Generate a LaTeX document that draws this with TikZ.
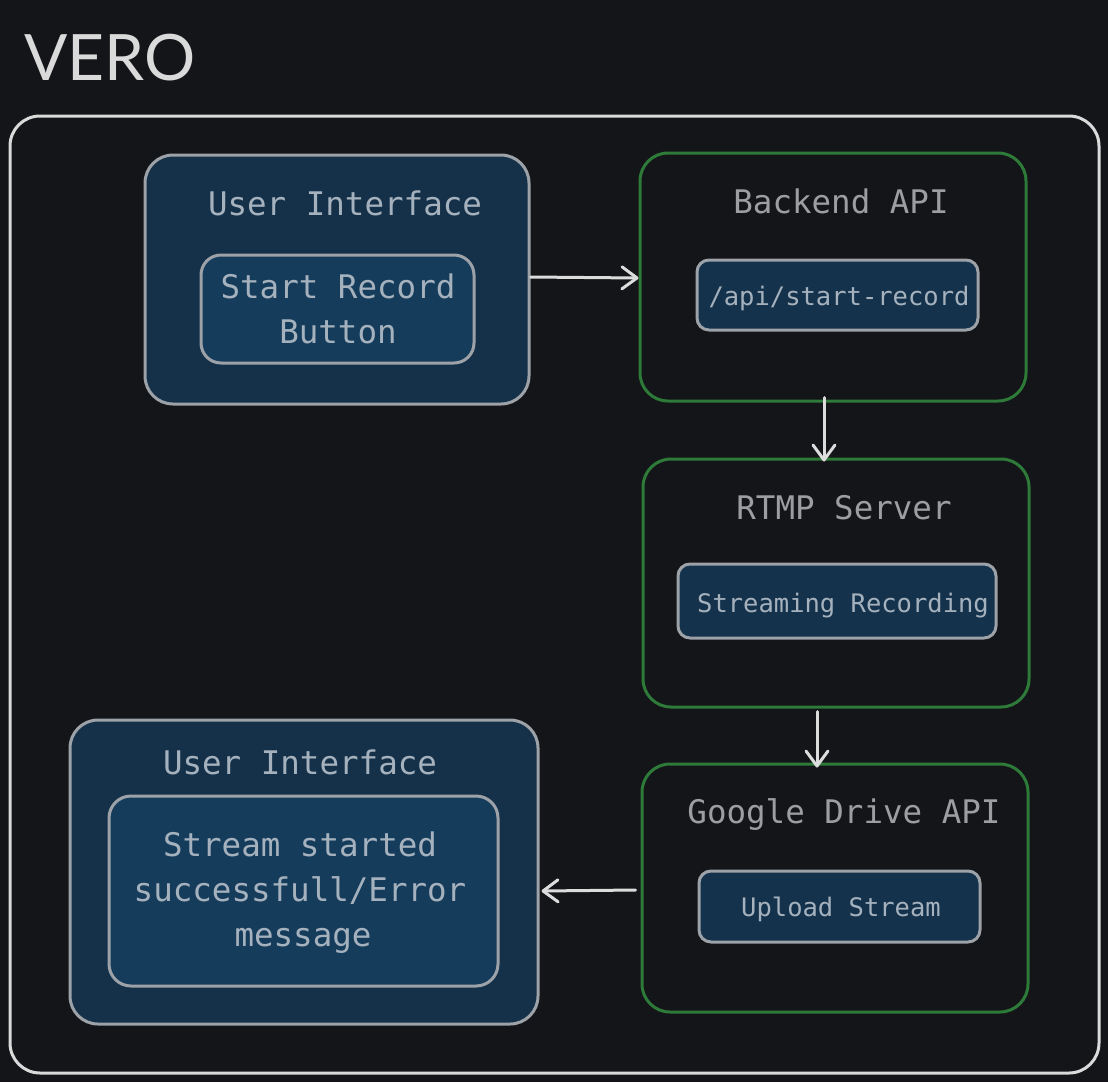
\documentclass[tikz,border=0pt]{standalone}
\usepackage{fontspec}
\setmainfont{Lato}
\newfontfamily\boxfont{DejaVu Sans Mono}
\usetikzlibrary{arrows.meta}
\definecolor{bgc}{RGB}{19,21,25}
\definecolor{framec}{RGB}{218,218,218}
\definecolor{uifill}{RGB}{21,49,73}
\definecolor{uiinner}{RGB}{22,60,92}
\definecolor{smallfill}{RGB}{20,50,75}
\definecolor{grayline}{RGB}{156,162,168}
\definecolor{greenline}{RGB}{46,122,56}
\definecolor{txtblue}{RGB}{165,178,190}
\definecolor{txtgray}{RGB}{158,158,160}
\definecolor{arrc}{RGB}{220,220,220}
\tikzset{
  box/.style={rectangle, rounded corners=28pt, line width=3pt, inner sep=0pt},
  uibox/.style={box, draw=grayline, fill=uifill},
  uiinnerbox/.style={box, rounded corners=22pt, draw=grayline, fill=uiinner},
  svcbox/.style={box, draw=greenline, fill=bgc},
  chip/.style={box, rounded corners=12pt, draw=grayline, fill=smallfill},
  bigtxt/.style={font=\boxfont\fontsize{32.5}{39}\selectfont, anchor=base, inner sep=0pt},
  smalltxt/.style={font=\boxfont\fontsize{25.5}{30}\selectfont, anchor=base, inner sep=0pt},
  arr/.style={draw=arrc, line width=3pt, line cap=round, -{Straight Barb[length=15pt,width=22pt,line width=3pt,round]}}
}
\begin{document}
\begin{tikzpicture}[x=1pt,y=-1pt]
\fill[bgc] (0,0) rectangle (1108,1082);
\useasboundingbox (0,0) rectangle (1108,1082);
% title
\node[anchor=base west, inner sep=0pt, text=framec, font=\fontsize{64}{76}\selectfont] (title) at (24,80) {VERO};
% frame
\node[box, rounded corners=30pt, draw=framec, minimum width=1089pt, minimum height=957pt] (frame) at (554.5,594.5) {};
% UI 1
\node[uibox, minimum width=384pt, minimum height=249pt] (ui1) at (337,279.5) {};
\node[bigtxt, text=txtblue] (ui1t) at (345,215) {User Interface};
\node[uiinnerbox, rounded corners=20pt, minimum width=273pt, minimum height=108pt] (btn) at (337.5,309) {};
\node[bigtxt, text=txtblue] (btnt1) at (338,298) {Start Record};
\node[bigtxt, text=txtblue] (btnt2) at (338,343) {Button};
% Backend API
\node[svcbox, minimum width=386pt, minimum height=248pt] (api) at (833,277) {};
\node[bigtxt, text=txtgray] (apit) at (841,213) {Backend API};
\node[chip, minimum width=281pt, minimum height=70pt] (ep) at (837.5,295) {};
\node[smalltxt, text=txtblue] (ept) at (839,305) {/api/start-record};
% RTMP
\node[svcbox, minimum width=386pt, minimum height=248pt] (rtmp) at (836,583) {};
\node[bigtxt, text=txtgray] (rtmpt) at (844,519) {RTMP Server};
\node[chip, minimum width=318pt, minimum height=74pt] (rec) at (837,601) {};
\node[smalltxt, text=txtblue] (rect) at (843,612) {Streaming Recording};
% Google Drive
\node[svcbox, minimum width=386pt, minimum height=248pt] (gd) at (835,888) {};
\node[bigtxt, text=txtgray] (gdt) at (844,823) {Google Drive API};
\node[chip, minimum width=281pt, minimum height=71pt] (up) at (839.5,906.5) {};
\node[smalltxt, text=txtblue] (upt) at (841,916) {Upload Stream};
% UI 2
\node[uibox, minimum width=468pt, minimum height=304pt] (ui2) at (304,872) {};
\node[bigtxt, text=txtblue] (ui2t) at (300,774) {User Interface};
\node[uiinnerbox, minimum width=389pt, minimum height=190pt] (msg) at (303.5,891) {};
\node[bigtxt, text=txtblue] (msgt1) at (300,856) {Stream started};
\node[bigtxt, text=txtblue] (msgt2) at (300,901) {successfull/Error};
\node[bigtxt, text=txtblue] (msgt3) at (303,946) {message};
% arrows
\draw[arr] ([yshift=2.5pt]ui1.east) -- ([yshift=-1pt]api.west);
\draw[arr] ([xshift=-9pt,yshift=5pt]api.south) -- ([xshift=-12pt,yshift=-4pt]rtmp.north);
\draw[arr] ([xshift=-19pt,yshift=-3pt]rtmp.south) -- ([xshift=-18pt,yshift=-5pt]gd.north);
\draw[arr] ([xshift=-5pt,yshift=-2pt]gd.west) -- ([xshift=2pt,yshift=-19pt]ui2.east);
\end{tikzpicture}
\end{document}
